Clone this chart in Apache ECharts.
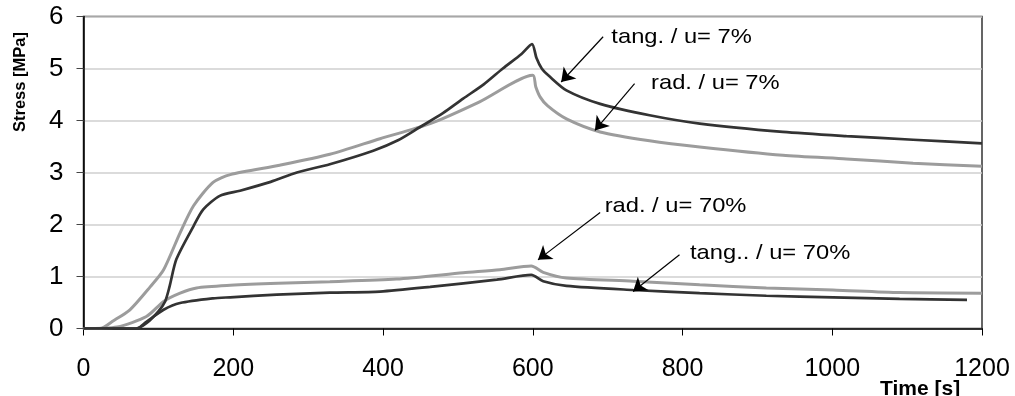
<!DOCTYPE html>
<html><head><meta charset="utf-8">
<script src="https://cdn.jsdelivr.net/npm/echarts@6/dist/echarts.min.js"></script>
<style>html,body{margin:0;padding:0;background:#fff}#c{width:1015px;height:396px}</style>
</head><body><div id="c"></div>
<script>
// ---- data (time in s, stress in MPa) ----
const tang7T = [0, 70, 84, 100, 109, 115, 124, 147, 160, 182, 209, 250, 285, 329, 387, 420, 449, 480, 507, 535, 560, 585, 599, 605, 612, 623, 645, 690, 756, 823, 934, 1019, 1108, 1200];
const tang7V = [0, 0, 0.1, 0.33, 0.52, 0.81, 1.33, 1.97, 2.29, 2.55, 2.65, 2.82, 3.0, 3.16, 3.42, 3.62, 3.87, 4.14, 4.42, 4.7, 5.0, 5.28, 5.47, 5.2, 5.0, 4.84, 4.58, 4.32, 4.10, 3.94, 3.78, 3.70, 3.63, 3.56];

const rad7T = [0, 22, 40, 62, 89, 107, 129, 147, 173, 196, 262, 329, 396, 463, 529, 600, 604, 610, 620, 645, 690, 756, 823, 934, 1019, 1108, 1200];
const rad7V = [0, 0, 0.15, 0.36, 0.8, 1.13, 1.84, 2.36, 2.81, 2.96, 3.14, 3.35, 3.65, 3.94, 4.36, 4.87, 4.65, 4.45, 4.28, 4.03, 3.78, 3.61, 3.49, 3.33, 3.26, 3.18, 3.12];

const rad70T = [0, 45, 84, 107, 129, 151, 196, 260, 329, 418, 507, 556, 598, 614, 645, 734, 823, 912, 1001, 1090, 1200];
const rad70V = [0, 0.03, 0.23, 0.52, 0.68, 0.78, 0.83, 0.87, 0.9, 0.95, 1.07, 1.13, 1.2, 1.08, 0.97, 0.91, 0.84, 0.78, 0.74, 0.69, 0.68];

const tang70T = [0, 71, 84, 107, 129, 173, 196, 258, 329, 396, 463, 552, 598, 614, 645, 734, 823, 912, 1001, 1090, 1180];
const tang70V = [0, 0, 0.13, 0.36, 0.49, 0.58, 0.6, 0.65, 0.69, 0.71, 0.80, 0.94, 1.03, 0.91, 0.82, 0.74, 0.68, 0.63, 0.60, 0.57, 0.55];

const xTickValues = [0, 200, 400, 600, 800, 1000, 1200];
const yTickValues = [0, 1, 2, 3, 4, 5, 6];

// ---- annotations (data coordinates) ----
const noteTexts = ['tang. / u= 7%', 'rad. / u= 7%', 'rad. / u= 70%', 'tang.. / u= 70%'];
const noteTextAt = [[705, 5.61], [758, 4.71], [696, 2.36], [810, 1.44]];
const arrowFrom = [[694, 5.61], [736, 4.71], [690, 2.23], [796, 1.42]];
const arrowTo = [[638, 4.74], [683, 3.81], [607, 1.32], [734, 0.71]];

const pairs = (T, V) => T.map((t, i) => [t, V[i]]);

const DARK = '#333333', LIGHT = '#9c9c9c';
const FONT = '"Liberation Sans", Arial, sans-serif';

const chart = echarts.init(document.getElementById('c'), null, {renderer: 'canvas'});

const arrows = arrowFrom.map((a, i) => [{coord: a}, {coord: arrowTo[i]}]);
const lineBase = {type: 'line', showSymbol: false, smooth: 0.25};

chart.setOption({
  animation: false,
  backgroundColor: '#fff',
  grid: {left: 83.5, right: 33, top: 16.5, bottom: 67.5, show: true, borderColor: '#333', borderWidth: 1.5},
  xAxis: {
    type: 'value', min: 0, max: 1200, interval: 200,
    axisLine: {lineStyle: {color: '#000', width: 1.5}},
    axisTick: {show: true, inside: false, length: 7, lineStyle: {color: '#000', width: 1}},
    axisLabel: {fontFamily: FONT, fontSize: 25, color: '#000', margin: 28,
      formatter: v => xTickValues.includes(v) ? String(v) : ''},
    splitLine: {show: false}
  },
  yAxis: {
    type: 'value', min: 0, max: 6, interval: 1,
    axisLine: {show: true, lineStyle: {color: '#000', width: 1.5}},
    axisTick: {show: true, inside: false, length: 7, lineStyle: {color: '#444', width: 1}},
    axisLabel: {fontFamily: FONT, fontSize: 26, color: '#000', margin: 20,
      formatter: v => yTickValues.includes(v) ? String(v) : ''},
    splitLine: {show: true, lineStyle: {color: '#cfcfcf', width: 1.5}}
  },
  series: [
    Object.assign({name: 'rad. / u= 7%', data: pairs(rad7T, rad7V), lineStyle: {color: LIGHT, width: 3}, z: 2}, lineBase),
    Object.assign({name: 'rad. / u= 70%', data: pairs(rad70T, rad70V), lineStyle: {color: LIGHT, width: 3}, z: 2}, lineBase),
    Object.assign({name: 'tang. / u= 7%', data: pairs(tang7T, tang7V), lineStyle: {color: DARK, width: 2.7}, z: 3}, lineBase),
    Object.assign({name: 'tang.. / u= 70%', data: pairs(tang70T, tang70V), lineStyle: {color: DARK, width: 2.7}, z: 3,
      markLine: {silent: true, symbol: ['none', 'arrow'], symbolSize: 13, animation: false,
        label: {show: false}, lineStyle: {color: '#000', width: 1.2, type: 'solid'},
        emphasis: {disabled: true}, data: arrows}}, lineBase)
  ]
});

const graphics = noteTexts.map((txt, i) => {
  const p = chart.convertToPixel({gridIndex: 0}, noteTextAt[i]);
  return {type: 'text', x: p[0], y: p[1], scaleX: 1.13, z: 100,
    style: {text: txt, fontFamily: FONT, fontSize: 21, fill: '#000', verticalAlign: 'middle', align: 'left'}};
});
graphics.push({type: 'text', x: 880, y: 379, z: 100,
  style: {text: 'Time [s]', fontFamily: FONT, fontSize: 21, fontWeight: 'bold', fill: '#000', verticalAlign: 'top'}});
graphics.push({type: 'text', x: 20, y: 82, rotation: Math.PI / 2, z: 100,
  style: {text: 'Stress [MPa]', fontFamily: FONT, fontSize: 16.5, fontWeight: 'bold', fill: '#000', align: 'center', verticalAlign: 'middle'}});
chart.setOption({graphic: graphics});
</script></body></html>
